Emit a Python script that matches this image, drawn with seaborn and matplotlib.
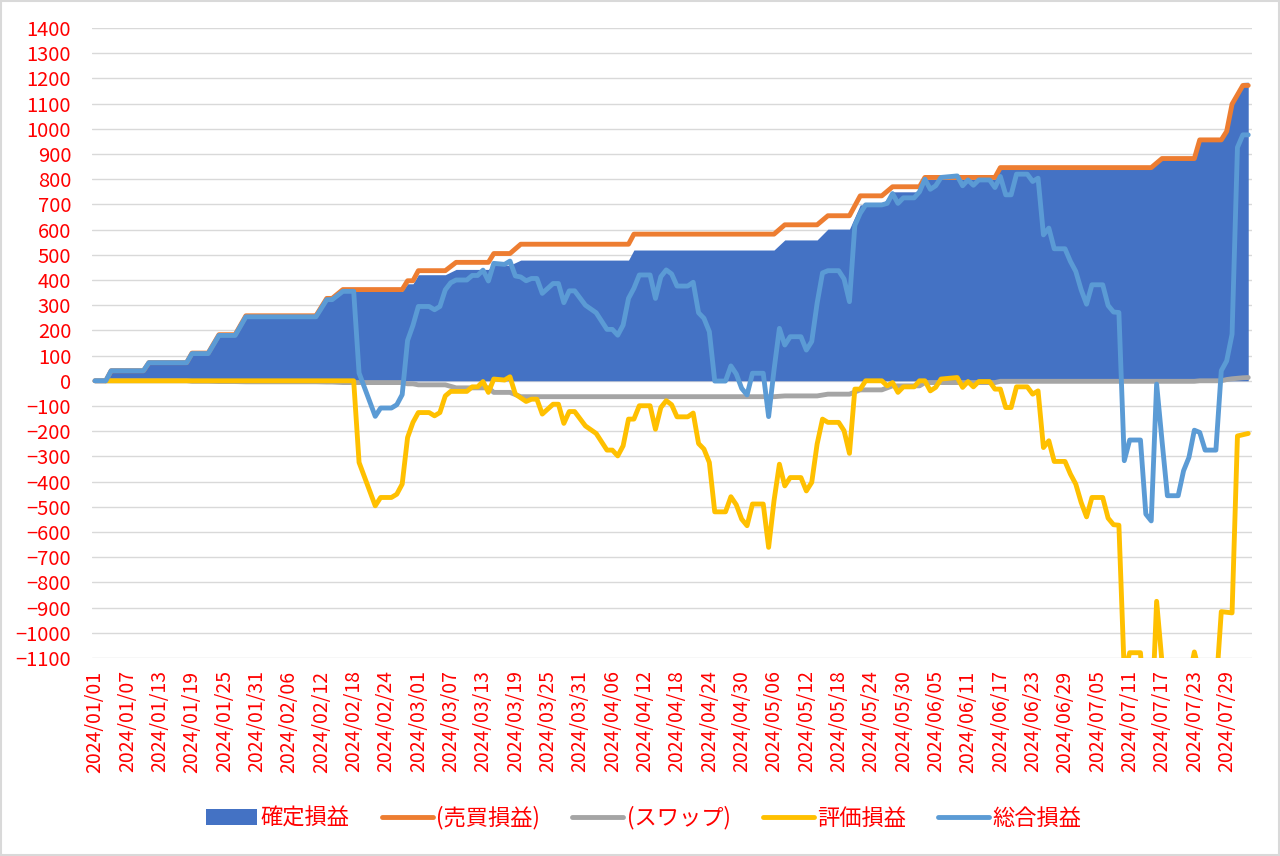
import pandas as pd
import matplotlib
matplotlib.use("Agg")
import matplotlib.pyplot as plt
import matplotlib.dates as mdates
from matplotlib.patches import Patch, Rectangle
from matplotlib.lines import Line2D
import seaborn as sns

START = pd.Timestamp("2024-01-01")

# days since 2024/01/01 where the realized figures change
step_day = [0, 2, 3, 9, 10, 17, 18, 21, 23, 26, 28, 41, 43, 44, 46, 57, 58, 59, 60, 65,
            67, 73, 74, 77, 79, 99, 100, 126, 128, 134, 136, 140, 142, 146, 148, 153, 154,
            167, 168, 196, 198, 204, 205, 209, 210, 211, 213, 214]
trade_pl = [0, 0, 40, 40, 72, 72, 110, 110, 183, 183, 258, 258, 327, 327, 362, 362, 397, 397,
            437, 437, 470, 470, 505, 505, 542, 542, 582, 582, 619, 619, 655, 655, 734, 734,
            770, 770, 807, 807, 846, 846, 882, 882, 956, 956, 990, 1098, 1172, 1172]
swap_pl = [0, 0, 0, 0, 0, 0, -2, -2, -3, -3, -4, -4, -5, -5, -7, -7, -12, -12, -16, -16,
           -28, -28, -46, -46, -63, -63, -63, -63, -60, -60, -53, -53, -36, -36, -20, -20,
           -7, -7, -2, -2, -2, -2, 0, 0, 5, 8, 12, 13]
realized_pl = [0, 0, 40, 40, 72, 72, 108, 108, 180, 180, 254, 254, 322, 322, 355, 355, 385, 385,
               421, 421, 442, 442, 459, 459, 479, 479, 519, 519, 559, 559, 602, 602, 698, 698,
               750, 750, 800, 800, 844, 844, 880, 880, 956, 956, 995, 1106, 1184, 1185]

unreal_day = [2, 48, 49, 52, 53, 55, 56, 57, 58, 59, 60, 62, 63, 64, 65, 66, 69, 70, 71, 72,
              73, 74, 76, 77, 78, 80, 81, 82, 83, 85, 86, 87, 88, 89, 91, 93, 95, 96, 97, 98,
              99, 100, 101, 103, 104, 105, 106, 107, 108, 110, 111, 112, 113, 114, 115, 117,
              118, 119, 120, 121, 122, 124, 125, 126, 127, 128, 129, 131, 132, 133, 134, 135,
              136, 138, 139, 140, 141, 142, 143, 146, 147, 148, 149, 150, 152, 153, 154, 155,
              156, 157, 160, 161, 162, 163, 164, 166, 167, 168, 169, 170, 171, 173, 174, 175,
              176, 177, 178, 180, 181, 182, 183, 184, 185, 187, 188, 189, 190, 191, 192, 194,
              195, 196, 197, 198, 199, 201, 202, 203, 204, 205, 206, 208, 209, 211, 212, 214]
unreal_pl = [0, 0, -324, -496, -463, -463, -450, -410, -225, -165, -126, -126, -139, -126, -60,
             -42, -42, -24, -24, -3, -46, 7, 3, 16, -53, -82, -73, -73, -132, -93, -93, -169,
             -122, -122, -179, -209, -275, -275, -298, -258, -152, -152, -99, -99, -192, -106,
             -79, -95, -143, -143, -128, -249, -271, -324, -520, -520, -460, -492, -549, -575,
             -489, -489, -661, -476, -331, -417, -384, -384, -437, -403, -251, -152, -165, -165,
             -198, -288, -33, -33, 0, 0, -20, -7, -46, -24, -24, 0, 0, -40, -26, 7, 13, -26,
             -3, -24, -3, -3, -33, -33, -106, -106, -24, -24, -53, -40, -265, -238, -320, -320,
             -370, -410, -483, -540, -463, -463, -545, -571, -573, -1161, -1079, -1079, -1373,
             -1400, -875, -1118, -1336, -1336, -1237, -1184, -1076, -1161, -1231, -1231, -916,
             -921, -219, -209]

total_day = [0, 2, 3, 9, 10, 17, 18, 21, 23, 26, 28, 41, 43, 44, 46, 48, 49, 52, 53, 55, 56,
             57, 58, 59, 60, 62, 63, 64, 65, 66, 67, 69, 70, 71, 72, 73, 74, 76, 77, 78, 79,
             80, 81, 82, 83, 85, 86, 87, 88, 89, 91, 93, 95, 96, 97, 98, 99, 100, 101, 103,
             104, 105, 106, 107, 108, 110, 111, 112, 113, 114, 115, 117, 118, 119, 120, 121,
             122, 124, 125, 126, 127, 128, 129, 131, 132, 133, 134, 135, 136, 138, 139, 140,
             141, 142, 143, 146, 147, 148, 149, 150, 152, 153, 154, 155, 156, 157, 160, 161,
             162, 163, 164, 166, 167, 168, 169, 170, 171, 173, 174, 175, 176, 177, 178, 180,
             181, 182, 183, 184, 185, 187, 188, 189, 190, 191, 192, 194, 195, 196, 197, 198,
             199, 201, 202, 203, 204, 205, 206, 208, 209, 210, 211, 212, 213, 214]
total_pl = [0, 0, 40, 40, 72, 72, 108, 108, 180, 180, 254, 254, 322, 322, 355, 355, 31, -141,
            -108, -108, -95, -55, 160, 220, 295, 295, 282, 295, 361, 389, 400, 400, 418, 418,
            439, 396, 466, 462, 475, 416, 412, 397, 406, 406, 347, 386, 386, 310, 357, 357,
            300, 270, 204, 204, 181, 221, 327, 367, 420, 420, 327, 413, 440, 424, 376, 376,
            391, 270, 248, 195, -1, -1, 59, 27, -30, -56, 30, 30, -142, 43, 208, 142, 175,
            175, 122, 156, 308, 428, 437, 437, 404, 314, 617, 665, 698, 698, 704, 743, 704,
            726, 726, 750, 800, 760, 774, 807, 813, 774, 797, 776, 797, 797, 767, 811, 738,
            738, 820, 820, 791, 804, 579, 606, 524, 524, 474, 434, 361, 304, 381, 381, 299,
            273, 271, -317, -235, -235, -529, -556, -13, -238, -456, -456, -357, -304, -196,
            -205, -275, -275, 40, 79, 185, 926, 976, 976]

series_names = ["確定損益", "(売買損益)", "(スワップ)", "評価損益", "総合損益"]
series_colors = ["#4472C4", "#ED7D31", "#A5A5A5", "#FFC000", "#5B9BD5"]


def to_dates(days):
    return START + pd.to_timedelta(days, unit="D")


sns.set_theme(style="white")
plt.rcParams["font.family"] = ["Noto Sans CJK JP", "DejaVu Sans"]

fig = plt.figure(figsize=(12.8, 8.56), dpi=100)
ax = fig.add_axes([92 / 1280, 1 - 658 / 856, (1252 - 92) / 1280, (658 - 28) / 856])

# realized P&L as the filled area
ax.fill_between(to_dates(step_day), 0, realized_pl, color=series_colors[0], linewidth=0, zorder=1)

lines = [
    (step_day, trade_pl, series_colors[1]),
    (step_day, swap_pl, series_colors[2]),
    (unreal_day, unreal_pl, series_colors[3]),
    (total_day, total_pl, series_colors[4]),
]
for i, (d, v, c) in enumerate(lines):
    df = pd.DataFrame({"date": to_dates(d), "value": v})
    sns.lineplot(data=df, x="date", y="value", ax=ax, color=c, linewidth=3.5,
                 estimator=None, zorder=3 + i, solid_joinstyle="round", solid_capstyle="round")

ax.set_xlim(START - pd.Timedelta(days=0.56), START + pd.Timedelta(days=214.7))
ax.set_ylim(-1100, 1400)
ax.set_yticks(range(-1100, 1401, 100))
ax.set_xticks(to_dates(list(range(0, 211, 6))))
ax.xaxis.set_major_formatter(mdates.DateFormatter("%Y/%m/%d"))
ax.set_xlabel("")
ax.set_ylabel("")

ax.grid(axis="y", color="#D9D9D9", linewidth=1)
ax.grid(axis="x", visible=False)
ax.set_axisbelow(True)
for s in ax.spines.values():
    s.set_visible(False)

ax.tick_params(axis="x", labelrotation=90, labelcolor="red", labelsize=14, length=0, pad=9)
ax.tick_params(axis="y", labelcolor="red", labelsize=14.5, length=0, pad=15)

handles = [Patch(facecolor=series_colors[0], edgecolor="none")]
handles += [Line2D([0], [0], color=c, linewidth=3.5, solid_capstyle="round") for c in series_colors[1:]]
fig.legend(handles, series_names, loc="center", bbox_to_anchor=(0.503, 1 - 818 / 856), ncol=5,
           frameon=False, fontsize=16, labelcolor="red", handlelength=2.3, handletextpad=0.15,
           columnspacing=1.45)

fig.patches.append(Rectangle((0.001, 0.001), 0.998, 0.998, transform=fig.transFigure,
                             fill=False, edgecolor="#D9D9D9", linewidth=1.5))

fig.savefig("out.png", dpi=100)
